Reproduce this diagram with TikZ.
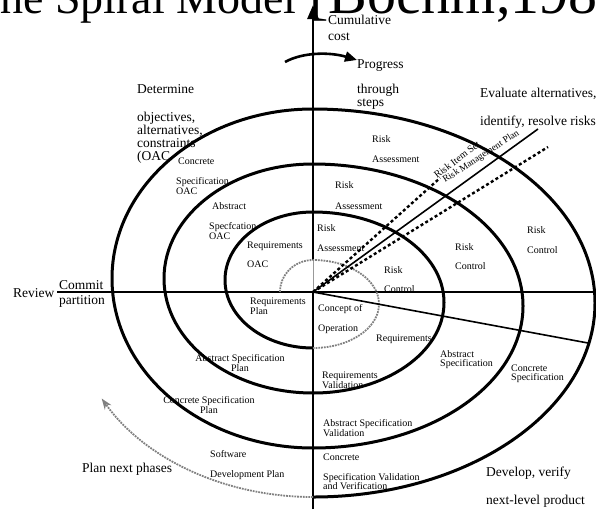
\documentclass[tikz,border=0pt]{standalone}
\usepackage{fontspec}
\setmainfont{Liberation Serif}
\usetikzlibrary{arrows.meta}
\begin{document}
\begin{tikzpicture}[x=1pt,y=-1pt,
  spiral/.style={line width=3pt},
  axisline/.style={line width=2.8pt},
  ray/.style={line width=1.6pt},
  riskdash/.style={line width=2.4pt, dash pattern=on 3pt off 2.5pt},
  loop/.style={line width=1.8pt, gray, densely dotted},
  big/.style={font=\fontsize{13.5}{13.5}\selectfont, inner sep=0pt, anchor=base west},
  small/.style={font=\fontsize{10}{10}\selectfont, inner sep=0pt, anchor=base west},
  smallc/.style={font=\fontsize{10}{10}\selectfont, inner sep=0pt, anchor=base},
]
\useasboundingbox (0,0) rectangle (596,509);
\clip (0,0) rectangle (596,509);

% title (runs off the top edge)
\node[font=\fontsize{46}{46}\selectfont, inner sep=0pt, anchor=base west] (title) at (-28,13) {The Spiral Model};
\node[font=\fontsize{58}{58}\selectfont, inner sep=0pt, anchor=base west] (titleref) at (309,13) {[Boehm,1988]};

% axes
\coordinate (O) at (313,292);
\coordinate (vtop) at (313,5);
\coordinate (vbot) at (313,509);
\coordinate (vgap) at (313,260);
\coordinate (hleft) at (57,292);
\coordinate (hright) at (596,292);
\draw[axisline] (vbot) -- (O);
\draw[line width=1pt, gray!80] (O) -- (vgap);
\draw[axisline, -{Triangle[length=14pt,width=11pt]}] (vgap) -- (vtop);
\draw[axisline] (hleft) -- (hright);

% the spiral, built from alternating half ellipses
\draw[spiral] (313,348)
  arc[start angle=90, end angle=270, x radius=88,  y radius=68]
  arc[start angle=-90, end angle=90, x radius=131, y radius=90.5]
  arc[start angle=90, end angle=270, x radius=149, y radius=114.5]
  arc[start angle=-90, end angle=90, x radius=210, y radius=142]
  arc[start angle=90, end angle=270, x radius=201, y radius=169.5]
  arc[start angle=-90, end angle=90, x radius=282, y radius=194];

% first (concept) loop
\draw[loop] (280,292)
  arc[start angle=180, end angle=270, x radius=33, y radius=32]
  arc[start angle=-90, end angle=90, x radius=66, y radius=44];

% rays from the origin
\coordinate (solidEnd) at (538,129);
\coordinate (dashLowEnd) at (548,147);
\coordinate (dashUpEnd) at (440,178);
\coordinate (specEnd) at (588,343);
\draw[ray] (O) -- (solidEnd);
\draw[riskdash] (O) -- (dashLowEnd);
\draw[riskdash] (O) -- (dashUpEnd);
\draw[ray] (O) -- (specEnd);

% progress arrow
\coordinate (pgA) at (285,62);
\coordinate (pgB) at (357,60);
\draw[line width=2.6pt, -{Triangle[length=12pt,width=10pt]}] (pgA) .. controls (303,52) and (330,52) .. (pgB);

% plan-next-phases arrow
\draw[loop, -{Stealth[length=11pt,width=8pt]}] (313,497)
  arc[start angle=90, end angle=150, x radius=244, y radius=197];

% quadrant captions
\node[big] (cum1) at (328,24) {Cumulative};
\node[big] (cum2) at (328,40) {cost};
\node[big] (prog) at (357,68) {Progress};
\node[big] (thr1) at (357,93) {through};
\node[big] (thr2) at (357,106) {steps};
\node[big] (det0) at (137,93) {Determine};
\node[big] (det1) at (137,121) {objectives,};
\node[big] (det2) at (137,134) {alternatives,};
\node[big] (det3) at (137,147) {constraints};
\node[big] (det4) at (137,160) {(OAC};
\node[big] (eva1) at (480,97) {Evaluate alternatives,};
\node[big] (eva2) at (480,125) {identify, resolve risks};
\node[big] (rev) at (13,297) {Review};
\node[big] (com1) at (59,289) {Commit};
\node[big] (com2) at (59,304) {partition};
\node[big] (plan) at (82,472) {Plan next phases};
\node[big] (dev1) at (486,476) {Develop, verify};
\node[big] (dev2) at (486,504) {next-level product};

% upper-left labels
\node[small] (cso1) at (178,164) {Concrete};
\node[small] (cso2) at (176,184) {Specification};
\node[small] (cso3) at (176,194) {OAC};
\node[small] (aso1) at (212,209) {Abstract};
\node[small] (aso2) at (209,229) {Specfcation};
\node[small] (aso3) at (209,239) {OAC};
\node[small] (rqo1) at (247,248) {Requirements};
\node[small] (rqo2) at (247,267) {OAC};

% upper-right labels
\node[small] (ra1) at (372,142) {Risk};
\node[small] (ra1b) at (372,162) {Assessment};
\node[small] (ra2) at (335,188) {Risk};
\node[small] (ra2b) at (335,209) {Assessment};
\node[small] (ra3) at (317,231) {Risk};
\node[small] (ra3b) at (317,251) {Assessment};
\node[small] (rc1) at (384,273) {Risk};
\node[small] (rc1b) at (384,292) {Control};
\node[small] (rc2) at (455,250) {Risk};
\node[small] (rc2b) at (455,269) {Control};
\node[small] (rc3) at (527,233) {Risk};
\node[small] (rc3b) at (527,253) {Control};
\node[font=\fontsize{10}{10}\selectfont, inner sep=0pt, anchor=base west, rotate=37] (rItem) at (437,179) {Risk Item Set};
\node[font=\fontsize{9.5}{9.5}\selectfont, inner sep=0pt, anchor=base west, rotate=33] (rPlan) at (445,183) {Risk Management Plan};

% lower-right labels
\node[small] (cop1) at (318,311) {Concept of};
\node[small] (cop2) at (318,331) {Operation};
\node[small] (req) at (376,341) {Requirements};
\node[small] (as1) at (440,357) {Abstract};
\node[small] (as2) at (440,366) {Specification};
\node[small] (cs1) at (511,371) {Concrete};
\node[small] (cs2) at (511,380) {Specification};
\node[small] (rv1) at (322,378) {Requirements};
\node[small] (rv2) at (322,388) {Validation};
\node[small] (av1) at (323,426) {Abstract Specification};
\node[small] (av2) at (323,436) {Validation};
\node[small] (cv1) at (323,460) {Concrete};
\node[small] (cv2) at (323,480) {Specification Validation};
\node[small] (cv3) at (323,489) {and Verification};

% lower-left labels
\node[small] (rp1) at (250,304) {Requirements};
\node[small] (rp2) at (250,314) {Plan};
\node[smallc] (ap1) at (240,361) {Abstract Specification};
\node[smallc] (ap2) at (240,371) {Plan};
\node[smallc] (cp1) at (209,403) {Concrete Specification};
\node[smallc] (cp2) at (209,413) {Plan};
\node[small] (sd1) at (210,457) {Software};
\node[small] (sd2) at (210,477) {Development Plan};
\end{tikzpicture}
\end{document}
